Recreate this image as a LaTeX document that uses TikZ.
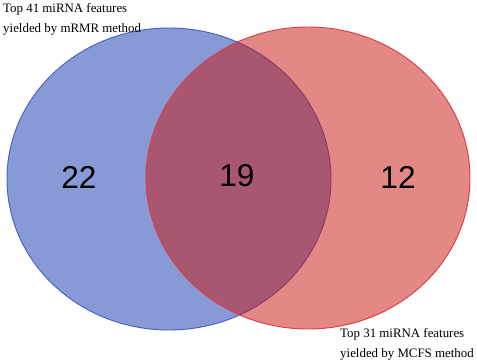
\documentclass[tikz,border=0pt]{standalone}
\usepackage{fontspec}
\setmainfont{Liberation Serif}
\newfontfamily\numfont{Liberation Sans}
\usepackage{tikz}
\usetikzlibrary{calc}

\definecolor{vennblue}{RGB}{17,55,173}
\definecolor{vennred}{RGB}{203,19,15}
\definecolor{blueline}{RGB}{72,96,200}
\definecolor{redline}{RGB}{220,62,72}

\begin{document}
\begin{tikzpicture}[x=0.03cm,y=-0.03cm,
    count/.style={font=\numfont\fontsize{27}{27}\selectfont},
    setlabel/.style={font=\fontsize{11}{17.5}\selectfont,align=left,inner sep=0pt}]
  \useasboundingbox (0,0) rectangle (477,362);
  \fill[white] (0,0) rectangle (477,362);
  \draw[blueline, line width=0.8pt, fill=vennblue, fill opacity=0.5] (169,179) ellipse (162 and 151);
  \draw[redline, line width=0.8pt, fill=vennred, fill opacity=0.5] (308,178) ellipse (162 and 151);
  \node[count] (left) at (79,177) {22};
  \node[count] (mid) at (237,176) {19};
  \node[count] (right) at (398,177) {12};
  \node[setlabel, anchor=north west] (mrmr) at (3,3) {Top 41 miRNA features\\yielded by mRMR method};
  \node[setlabel, anchor=north west] (mcfs) at (340,328) {Top 31 miRNA features\\yielded by MCFS method};
\end{tikzpicture}
\end{document}
